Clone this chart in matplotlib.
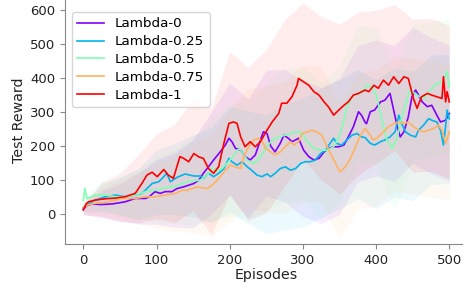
import matplotlib
matplotlib.use("Agg")
import matplotlib.pyplot as plt
import numpy as np

labels = ["Lambda-0", "Lambda-0.25", "Lambda-0.5", "Lambda-0.75", "Lambda-1"]

# Lambda-0
ep0 = [0, 5, 12, 25, 40, 57, 71, 85, 90, 98, 105, 112, 121, 128, 137, 144, 151, 158, 164, 171, 178, 187, 194, 199,
       203, 208, 215, 221, 228, 235, 242, 246, 251, 256, 262, 269, 274, 280, 285, 290, 294, 301, 308, 315, 322, 329,
       335, 342, 349, 356, 362, 369, 376, 380, 385, 387, 392, 398, 406, 412, 419, 424, 429, 433, 438, 444, 449, 454,
       458, 463, 470, 476, 483, 488, 495, 500]
val0 = [15, 25, 30, 28, 30, 36, 46, 46, 51, 66, 61, 66, 66, 75, 80, 85, 90, 100, 120, 139, 159, 183, 203, 223,
        213, 193, 188, 169, 159, 174, 218, 242, 237, 200, 183, 208, 232, 223, 213, 218, 223, 188, 169, 159, 164, 183,
        193, 198, 198, 203, 227, 257, 301, 291, 270, 266, 301, 306, 330, 335, 355, 306, 257, 227, 242, 286, 345, 365,
        350, 330, 316, 320, 291, 271, 276, 296]

# Lambda-0.25
ep1 = [0, 7, 16, 30, 44, 57, 71, 80, 87, 94, 103, 110, 114, 119, 128, 139, 151, 160, 164, 171, 178, 185, 192, 199,
       203, 210, 217, 224, 230, 237, 244, 251, 256, 262, 269, 276, 283, 290, 297, 303, 310, 317, 324, 331, 337, 342,
       346, 353, 360, 367, 374, 380, 385, 392, 398, 406, 412, 419, 426, 431, 435, 440, 447, 454, 458, 465, 472, 476,
       483, 488, 492, 495, 497, 500]
val1 = [20, 30, 41, 51, 56, 51, 56, 61, 75, 90, 95, 110, 120, 95, 108, 118, 112, 112, 105, 120, 110, 120, 134, 164,
        154, 144, 154, 139, 129, 115, 110, 118, 110, 120, 134, 139, 129, 134, 149, 154, 154, 159, 178, 188, 208, 223,
        208, 203, 218, 232, 237, 227, 225, 208, 203, 213, 218, 227, 242, 291, 266, 242, 232, 227, 247, 262, 281, 276,
        271, 247, 203, 260, 306, 280]

# Lambda-0.5
ep2 = [0, 2, 5, 16, 30, 44, 57, 71, 85, 98, 107, 117, 126, 135, 142, 160, 169, 177, 183, 190, 196, 205, 210, 214,
       219, 224, 233, 242, 251, 258, 267, 276, 283, 292, 299, 306, 315, 324, 333, 342, 347, 351, 356, 360, 365, 369,
       378, 388, 394, 401, 408, 415, 422, 429, 435, 442, 446, 456, 465, 474, 483, 490, 494, 497, 500]
val2 = [40, 76, 45, 56, 56, 51, 51, 56, 66, 70, 75, 80, 82, 90, 95, 100, 115, 135, 125, 135, 149, 170, 188, 191,
        175, 159, 149, 169, 198, 218, 227, 232, 237, 242, 237, 213, 193, 188, 188, 198, 218, 237, 276, 316, 335, 350,
        355, 379, 374, 345, 276, 218, 193, 227, 286, 335, 365, 350, 340, 365, 384, 389, 404, 420, 374]

# Lambda-0.75
ep3 = [0, 8, 16, 35, 53, 71, 85, 98, 112, 126, 135, 142, 155, 169, 176, 183, 189, 194, 201, 207, 215, 219, 226, 233,
       240, 246, 249, 256, 262, 269, 276, 283, 288, 294, 299, 306, 312, 319, 326, 333, 340, 347, 351, 358, 365, 372,
       378, 385, 392, 396, 403, 410, 417, 424, 431, 438, 444, 451, 458, 465, 472, 479, 485, 490, 495, 500]
val3 = [20, 28, 32, 36, 46, 46, 51, 51, 56, 61, 70, 70, 80, 75, 85, 100, 115, 129, 144, 139, 134, 169, 198, 218,
        223, 208, 193, 183, 174, 183, 198, 213, 203, 213, 237, 242, 247, 242, 232, 198, 169, 139, 124, 139, 164, 198,
        230, 252, 232, 218, 227, 242, 257, 266, 271, 266, 271, 257, 247, 242, 247, 252, 262, 247, 208, 242]

# Lambda-1
ep4 = [0, 4, 7, 16, 30, 43, 57, 71, 80, 87, 94, 101, 110, 116, 123, 132, 137, 144, 151, 158, 164, 171, 178, 185,
       192, 199, 205, 210, 215, 221, 228, 235, 242, 249, 258, 267, 271, 278, 285, 292, 294, 301, 308, 315, 322, 329,
       335, 342, 349, 356, 362, 369, 376, 385, 390, 397, 403, 410, 417, 424, 431, 438, 444, 451, 456, 462, 470, 476,
       483, 490, 492, 495, 497, 500]
val4 = [12, 30, 36, 41, 45, 47, 51, 61, 90, 115, 123, 110, 131, 115, 105, 169, 164, 154, 178, 168, 164, 134, 120, 140,
        208, 267, 271, 267, 227, 198, 213, 198, 213, 240, 271, 296, 326, 326, 345, 379, 399, 389, 379, 360, 350, 330,
        315, 291, 306, 320, 330, 350, 355, 365, 360, 379, 370, 394, 379, 404, 384, 404, 399, 340, 311, 345, 355, 350,
        345, 340, 404, 330, 360, 330]

# spread of the shaded bands (std), at these episodes
band_eps = [0, 25, 50, 75, 100, 125, 150, 175, 200, 225, 250, 275, 300, 325, 350, 375, 400, 425, 450, 475, 500]
std0 = [15, 40, 55, 75, 95, 110, 130, 150, 165, 175, 185, 195, 200, 200, 200, 200, 200, 200, 200, 200, 200]
std1 = [15, 40, 55, 75, 95, 105, 120, 140, 155, 165, 175, 185, 190, 190, 190, 190, 190, 190, 190, 190, 190]
std2 = [15, 40, 55, 75, 95, 110, 130, 150, 165, 175, 185, 195, 200, 200, 200, 200, 200, 200, 200, 200, 200]
std3 = [15, 40, 55, 75, 95, 110, 130, 150, 165, 175, 185, 195, 200, 200, 200, 200, 200, 200, 200, 200, 200]
std4 = [15, 50, 70, 100, 125, 145, 165, 185, 210, 225, 240, 245, 230, 240, 250, 240, 225, 215, 225, 225, 225]

eps = [ep0, ep1, ep2, ep3, ep4]
vals = [val0, val1, val2, val3, val4]
stds = [std0, std1, std2, std3, std4]

colors = plt.cm.rainbow(np.linspace(0, 1, 5))

fig = plt.figure(figsize=(4.63, 2.85), dpi=100)
ax = fig.add_axes([65 / 463, 41 / 285, 402.6 / 463, 247.5 / 285])

for e, v, s, c in zip(eps, vals, stds, colors):
    mean_at_band = np.interp(band_eps, e, v)
    ax.fill_between(band_eps, mean_at_band - np.array(s), mean_at_band + np.array(s),
                    color=c, alpha=0.075, linewidth=0)

for e, v, c, lab in zip(eps, vals, colors, labels):
    ax.plot(e, v, color=c, linewidth=1.2, label=lab)

ax.set_xlim(-25, 525)
ax.set_ylim(-88, 640)
ax.set_xticks([0, 100, 200, 300, 400, 500])
ax.set_yticks([0, 100, 200, 300, 400, 500, 600])

for side in ["top", "right"]:
    ax.spines[side].set_visible(False)
for side in ["left", "bottom"]:
    ax.spines[side].set_color("#888888")
ax.tick_params(axis="both", colors="#888888", labelcolor="#222222", labelsize=9.5, length=3.5)

ax.set_xlabel("Episodes", fontsize=10.2, color="#222222", labelpad=1)
ax.set_ylabel("Test Reward", fontsize=10.2, color="#222222", labelpad=3)

leg = ax.legend(loc="upper left", bbox_to_anchor=(72 / 463, 1 - 12 / 285),
                bbox_transform=fig.transFigure, borderaxespad=0, fontsize=9.7,
                labelspacing=0.36, framealpha=0.8, edgecolor="#cccccc")

fig.savefig("out.png", dpi=100)
